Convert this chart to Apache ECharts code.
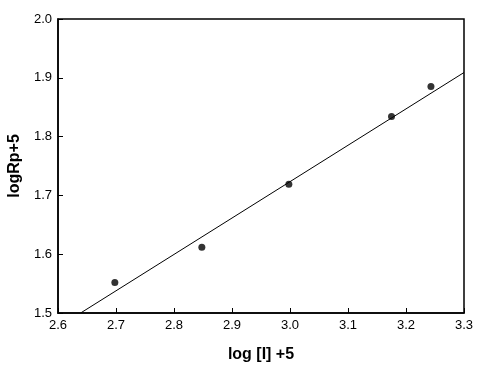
<!DOCTYPE html>
<html><head><meta charset="utf-8">
<script src="https://cdn.jsdelivr.net/npm/echarts@6/dist/echarts.min.js"></script>
<style>html,body{margin:0;padding:0;background:#fff}#c{width:478px;height:367px}</style>
</head><body><div id="c"></div>
<script>
const pointX = [2.698, 2.848, 2.998, 3.175, 3.243];
const pointY = [1.552, 1.612, 1.719, 1.834, 1.885];
const fitX = [2.639, 3.3];
const fitY = [1.5, 1.909];
const xTitle = 'log [I] +5';
const yTitle = 'logRp+5';

const chart = echarts.init(document.getElementById('c'));
const font = 'Liberation Sans, Arial, sans-serif';
chart.setOption({
  animation: false,
  grid: {left: 58, right: 14, top: 19, bottom: 54, show: true, borderColor: '#000', borderWidth: 1.5,
         outerBoundsMode: 'none', containLabel: false},
  xAxis: {
    type: 'value', min: 2.6, max: 3.3, interval: 0.1,
    name: xTitle, nameLocation: 'middle', nameGap: 34,
    nameTextStyle: {fontFamily: font, fontSize: 16, fontWeight: 'bold', color: '#000'},
    axisLine: {show: true, lineStyle: {color: '#000', width: 1.5}},
    axisTick: {show: true, inside: true, length: 5, lineStyle: {color: '#000'}},
    axisLabel: {fontFamily: font, fontSize: 13, color: '#000', margin: 6, formatter: v => v.toFixed(1)},
    splitLine: {show: false}
  },
  yAxis: {
    type: 'value', min: 1.5, max: 2.0, interval: 0.1,
    name: yTitle, nameLocation: 'middle', nameGap: 34,
    nameTextStyle: {fontFamily: font, fontSize: 16, fontWeight: 'bold', color: '#000'},
    axisLine: {show: true, lineStyle: {color: '#000', width: 1.5}},
    axisTick: {show: true, inside: true, length: 5, lineStyle: {color: '#000'}},
    axisLabel: {fontFamily: font, fontSize: 13, color: '#000', margin: 6, formatter: v => v.toFixed(1)},
    splitLine: {show: false}
  },
  series: [
    {type: 'line', data: fitX.map((x, i) => [x, fitY[i]]), showSymbol: false, symbol: 'none',
     lineStyle: {color: '#000', width: 1}, silent: true},
    {type: 'scatter', data: pointX.map((x, i) => [x, pointY[i]]), symbol: 'circle', symbolSize: 7,
     itemStyle: {color: '#000'}}
  ]
});
</script></body></html>
